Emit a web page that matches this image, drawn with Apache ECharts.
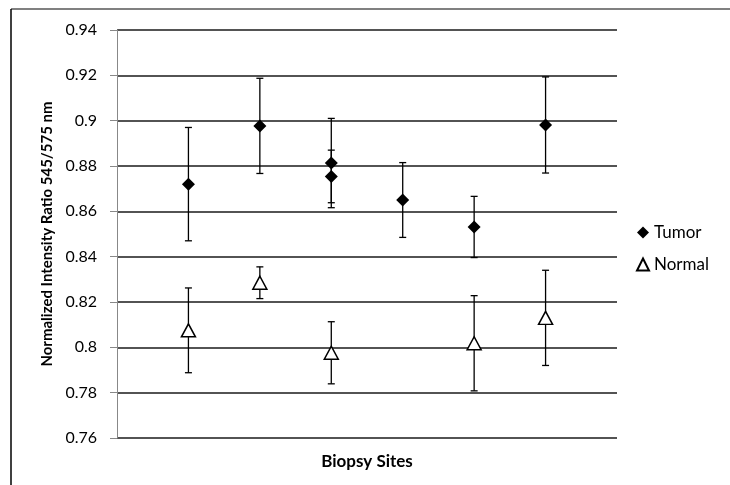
<!DOCTYPE html>
<html>
<head>
<meta charset="utf-8">
<script src="https://cdn.jsdelivr.net/npm/echarts@6/dist/echarts.min.js"></script>
<style>
html, body { margin: 0; padding: 0; background: #fff; }
#chart { width: 730px; height: 485px; }
</style>
</head>
<body>
<div id="chart"></div>
<script>
var yTicks = [0.76, 0.94, 0.02];

var tumorSites = [1, 2, 3, 3, 4, 5, 6];
var tumorMean = [0.872, 0.8977, 0.8813, 0.8754, 0.865, 0.8531, 0.8981];
var tumorErr = [0.025, 0.021, 0.0197, 0.0116, 0.0165, 0.0135, 0.0212];

var normalSites = [1, 2, 3, 5, 6];
var normalMean = [0.8075, 0.8285, 0.7976, 0.8018, 0.813];
var normalErr = [0.0187, 0.007, 0.0137, 0.021, 0.021];

var FONT = 'Lato';

function points(xs, ys) {
	return xs.map(function (x, i) { return [x, ys[i]]; });
}
function bars(xs, ys, es) {
	return xs.map(function (x, i) { return [x, ys[i] - es[i], ys[i] + es[i]]; });
}

// vertical error bar with small caps
function errorBar(params, api) {
	var lo = api.coord([api.value(0), api.value(1)]);
	var hi = api.coord([api.value(0), api.value(2)]);
	var cap = 3.5;
	var st = { stroke: '#000', lineWidth: 1.3 };
	return {
		type: 'group',
		children: [
			{ type: 'line', shape: { x1: lo[0], y1: lo[1], x2: hi[0], y2: hi[1] }, style: st },
			{ type: 'line', shape: { x1: lo[0] - cap, y1: lo[1], x2: lo[0] + cap, y2: lo[1] }, style: st },
			{ type: 'line', shape: { x1: hi[0] - cap, y1: hi[1], x2: hi[0] + cap, y2: hi[1] }, style: st }
		]
	};
}

var myChart = echarts.init(document.getElementById('chart'));
var option = {
	animation: false,
	backgroundColor: '#fff',
	textStyle: { fontFamily: FONT },
	graphic: [
		{ type: 'line', shape: { x1: 11, y1: 9, x2: 730, y2: 9 }, style: { stroke: '#808080', lineWidth: 2 } },
		{ type: 'line', shape: { x1: 11, y1: 9, x2: 11, y2: 485 }, style: { stroke: '#000', lineWidth: 1.5 } }
	],
	grid: { left: 117, right: 113, top: 30, bottom: 47 },
	legend: {
		orient: 'vertical',
		left: 631,
		top: 219,
		itemWidth: 12,
		itemHeight: 12,
		itemGap: 15,
		textStyle: { fontFamily: FONT, fontSize: 17, color: '#000' },
		data: ['Tumor', 'Normal']
	},
	xAxis: {
		type: 'value',
		min: 0,
		max: 7,
		name: 'Biopsy Sites',
		nameLocation: 'middle',
		nameGap: 15,
		nameTextStyle: { fontFamily: FONT, fontSize: 17, fontWeight: 'bold', color: '#000' },
		axisLine: { show: false },
		axisTick: { show: false },
		axisLabel: { show: false },
		splitLine: { show: false }
	},
	yAxis: {
		type: 'value',
		min: yTicks[0],
		max: yTicks[1],
		interval: yTicks[2],
		name: 'Normalized Intensity Ratio 545/575 nm',
		nameLocation: 'middle',
		nameGap: 59,
		nameTextStyle: { fontFamily: FONT, fontSize: 15, fontWeight: 'bold', color: '#000' },
		axisLine: { show: true, lineStyle: { color: '#888', width: 1 } },
		axisTick: { show: true, length: 7, lineStyle: { color: '#888' } },
		axisLabel: { margin: 20, fontFamily: FONT, fontSize: 16, color: '#000' },
		splitLine: { show: true, lineStyle: { color: '#1a1a1a', width: 1.5 } }
	},
	series: [
		{
			type: 'custom',
			renderItem: errorBar,
			data: bars(tumorSites, tumorMean, tumorErr),
			encode: { x: 0, y: [1, 2] },
			z: 2,
			silent: true
		},
		{
			type: 'custom',
			renderItem: errorBar,
			data: bars(normalSites, normalMean, normalErr),
			encode: { x: 0, y: [1, 2] },
			z: 2,
			silent: true
		},
		{
			name: 'Tumor',
			type: 'scatter',
			symbol: 'diamond',
			symbolSize: 13,
			itemStyle: { color: '#000', opacity: 1 },
			data: points(tumorSites, tumorMean),
			z: 5
		},
		{
			name: 'Normal',
			type: 'scatter',
			symbol: 'triangle',
			symbolSize: [14, 13],
			itemStyle: { color: '#fff', borderColor: '#000', borderWidth: 1.5, opacity: 1 },
			data: points(normalSites, normalMean),
			z: 5
		}
	]
};
myChart.setOption(option);
</script>
</body>
</html>
